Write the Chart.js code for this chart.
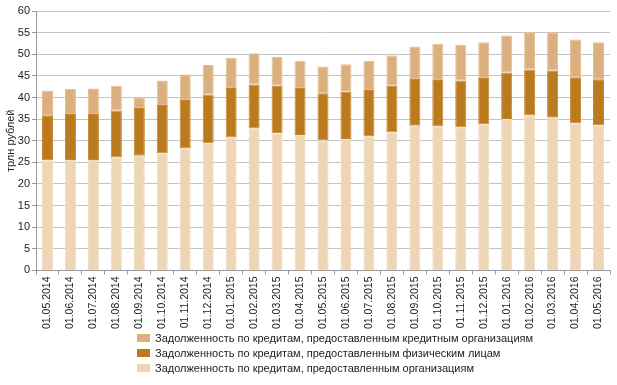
<!DOCTYPE html>
<html>
<head>
<meta charset="utf-8">
<script src="https://cdn.jsdelivr.net/npm/chart.js@4/dist/chart.umd.min.js"></script>
<style>
  html, body { margin: 0; padding: 0; background: #fff; }
  #wrap { position: relative; width: 617px; height: 385px; }
  #legend { position: absolute; left: 137px; top: 331px; font: 11px "Liberation Sans", Arial, sans-serif; color: #222; }
  #legend div { height: 15px; line-height: 15px; white-space: nowrap; }
  #legend span { display: inline-block; width: 13px; height: 8px; margin-right: 5px; vertical-align: -0px; }
</style>
</head>
<body>
<div id="wrap">
  <canvas id="myChart" width="617" height="385"></canvas>
  <div id="legend"></div>
</div>
<script>
// dates (first of month)
const dates = [
  '01.05.2014', '01.06.2014', '01.07.2014', '01.08.2014', '01.09.2014',
  '01.10.2014', '01.11.2014', '01.12.2014', '01.01.2015', '01.02.2015',
  '01.03.2015', '01.04.2015', '01.05.2015', '01.06.2015', '01.07.2015',
  '01.08.2015', '01.09.2015', '01.10.2015', '01.11.2015', '01.12.2015',
  '01.01.2016', '01.02.2016', '01.03.2016', '01.04.2016', '01.05.2016',
];

// трлн рублей
const loansToOrgs = [
  25.5, 25.55, 25.55, 26.1, 26.55, 27.1, 28.2, 29.4, 30.8, 32.8,
  31.75, 31.3, 30.1, 30.4, 31.0, 31.9, 33.45, 33.3, 33.1, 33.8,
  35.0, 35.85, 35.5, 34.05, 33.6,
];
const loansToPersons = [
  10.4, 10.65, 10.65, 10.9, 11.0, 11.15, 11.2, 11.3, 11.4, 10.2,
  11.05, 10.9, 10.9, 10.9, 10.75, 10.8, 10.85, 10.75, 10.8, 10.7,
  10.75, 10.6, 10.7, 10.65, 10.6,
];
const loansToBanks = [
  5.7, 5.8, 5.9, 5.7, 2.45, 5.65, 5.9, 6.8, 7.0, 7.25,
  6.6, 6.3, 6.15, 6.4, 6.75, 7.0, 7.5, 8.35, 8.3, 8.3,
  8.6, 8.65, 8.9, 8.7, 8.6,
];

const yTicks = [0, 5, 10, 15, 20, 25, 30, 35, 40, 45, 50, 55, 60];

const FONT = '"Liberation Sans", Arial, sans-serif';

const datasets = [
  {
    label: 'Задолженность по кредитам, предоставленным организациям',
    data: loansToOrgs,
    backgroundColor: '#EDD5B5',
    borderColor: '#F1DDC3',
  },
  {
    label: 'Задолженность по кредитам, предоставленным физическим лицам',
    data: loansToPersons,
    backgroundColor: '#BC7A1F',
    borderColor: '#C4872F',
  },
  {
    label: 'Задолженность по кредитам, предоставленным кредитным организациям',
    data: loansToBanks,
    backgroundColor: '#DCB07E',
    borderColor: '#E4BE92',
  },
].map(d => ({ ...d, borderWidth: 1, borderSkipped: false, barPercentage: 0.48, categoryPercentage: 1 }));

new Chart(document.getElementById('myChart'), {
  type: 'bar',
  data: { labels: dates, datasets },
  options: {
    responsive: false,
    animation: false,
    layout: { padding: { top: 11, right: 7, bottom: 54, left: 0 } },
    plugins: { legend: { display: false }, tooltip: { enabled: false } },
    scales: {
      x: {
        stacked: true,
        grid: { drawOnChartArea: false, drawTicks: true, tickLength: 4, color: '#999' },
        border: { color: '#999' },
        ticks: {
          autoSkip: false, minRotation: 90, maxRotation: 90, padding: 2,
          color: '#222', font: { family: FONT, size: 10.5 },
        },
      },
      y: {
        stacked: true,
        min: 0,
        max: 60,
        afterBuildTicks: s => { s.ticks = yTicks.map(v => ({ value: v })); },
        afterFit: s => { s.width = 36; },
        grid: { color: '#c4c4c4', tickLength: 4, tickColor: '#999' },
        border: { color: '#999' },
        ticks: { padding: 2, color: '#222', font: { family: FONT, size: 11 } },
        title: {
          display: true, text: 'трлн рублей', color: '#222',
          font: { family: FONT, size: 11 }, padding: { top: 4, bottom: 0 },
        },
      },
    },
  },
});

// legend, listed top series first
const legend = document.getElementById('legend');
datasets.slice().reverse().forEach(d => {
  const row = document.createElement('div');
  const box = document.createElement('span');
  box.style.background = d.backgroundColor;
  row.appendChild(box);
  row.appendChild(document.createTextNode(d.label));
  legend.appendChild(row);
});
</script>
</body>
</html>
